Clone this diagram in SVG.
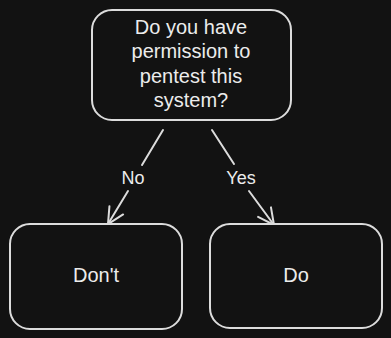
<svg xmlns="http://www.w3.org/2000/svg" width="391" height="338" viewBox="0 0 391 338">
<defs>
<style>
.box{fill:#121212;stroke:#dcdcdc;stroke-width:2}
.t{fill:#ececec;font-family:"Liberation Sans",Arial,sans-serif;font-size:20px;text-anchor:middle}
.lbl{fill:#ececec;font-family:"Liberation Sans",Arial,sans-serif;font-size:18px;text-anchor:middle}
.c{stroke:#dcdcdc;stroke-width:2;fill:none;stroke-linecap:round}
</style>
<marker id="ah" viewBox="0 0 20 20" refX="18" refY="10" markerWidth="20" markerHeight="20" markerUnits="userSpaceOnUse" orient="auto">
<path d="M2,2 L18,10 L2,18" fill="none" stroke="#dcdcdc" stroke-width="2" stroke-linecap="round"/>
</marker>
</defs>
<rect width="391" height="338" fill="#121212"/>
<g id="connectors">
<path class="c" d="M163,130 L142,165"/>
<path class="c" d="M128,191 L108,224" marker-end="url(#ah)"/>
<path class="c" d="M212,130 L234,164"/>
<path class="c" d="M249,191 L274,225" marker-end="url(#ah)"/>
<text class="lbl" x="133" y="184">No</text>
<text class="lbl" x="241" y="184">Yes</text>
</g>
<g id="question">
<rect class="box" x="92" y="10" width="199" height="110" rx="20"/>
<text class="t" x="191" y="34">Do you have</text>
<text class="t" x="191" y="58">permission to</text>
<text class="t" x="191" y="83">pentest this</text>
<text class="t" x="191" y="107">system?</text>
</g>
<g id="dont">
<rect class="box" x="10" y="224" width="172" height="105" rx="20"/>
<text class="t" x="96" y="282">Don't</text>
</g>
<g id="do">
<rect class="box" x="210" y="224" width="172" height="104" rx="20"/>
<text class="t" x="296" y="282">Do</text>
</g>
</svg>
